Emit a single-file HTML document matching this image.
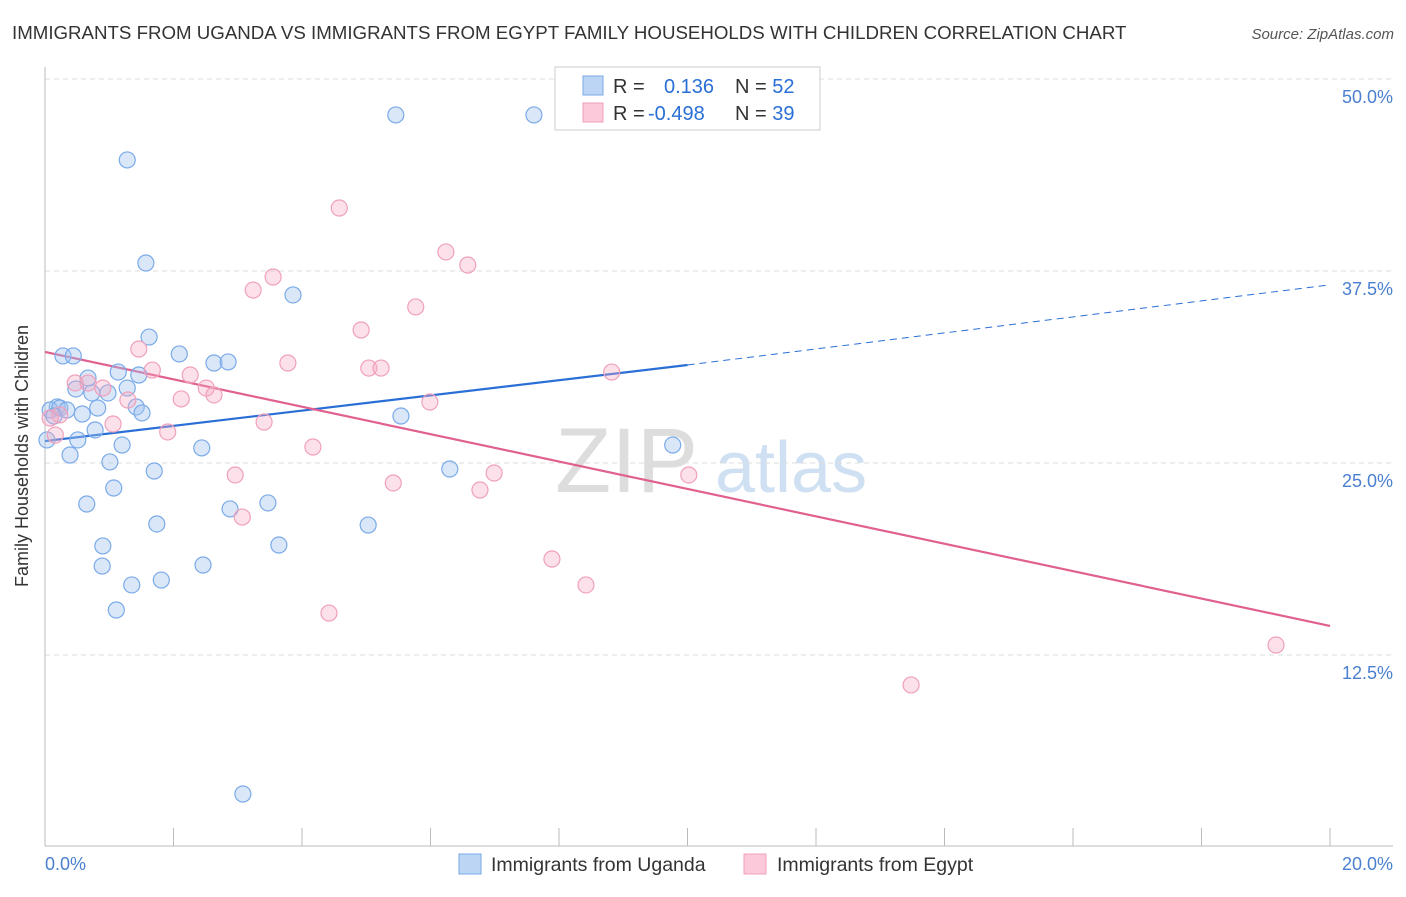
<!DOCTYPE html>
<html><head><meta charset="utf-8"><style>
body{margin:0;background:#fff;font-family:"Liberation Sans",sans-serif;}
svg text{font-family:"Liberation Sans",sans-serif;}
</style></head><body>
<svg id="chart" width="1406" height="892" viewBox="0 0 1406 892">
<text x="12" y="39" font-size="18.7" fill="#333">IMMIGRANTS FROM UGANDA VS IMMIGRANTS FROM EGYPT FAMILY HOUSEHOLDS WITH CHILDREN CORRELATION CHART</text>
<text x="1394" y="39" font-size="15" fill="#555" font-style="italic" text-anchor="end">Source: ZipAtlas.com</text>
<g><text x="555" y="492" font-size="92" fill="#ddd" font-family="Liberation Serif">ZIP</text><text x="715" y="492" font-size="72" fill="#cfe0f3">atlas</text></g>
<g id="grid"></g><g id="axes"></g><g id="lines"></g><g id="pts"></g>
<text x="28" y="456" font-size="18" fill="#333" text-anchor="middle" transform="rotate(-90 28 456)">Family Households with Children</text>
<text x="45" y="870" font-size="18" fill="#4a7fd0">0.0%</text>
<text x="1393" y="870" font-size="18" fill="#4a7fd0" text-anchor="end">20.0%</text>
<g>
<rect x="555" y="67" width="265" height="63" fill="#fff" stroke="#ccc"/>
<rect x="583" y="76" width="20" height="19" fill="#bcd5f5" stroke="#7aaae8"/>
<rect x="583" y="103" width="20" height="19" fill="#fbc9d9" stroke="#f0a0bb"/>
<text x="613" y="93" font-size="20" fill="#333">R = <tspan x="664" fill="#2a6fd6">0.136</tspan><tspan x="735" fill="#333">N = </tspan><tspan fill="#2a6fd6">52</tspan></text>
<text x="613" y="120" font-size="20" fill="#333">R = <tspan x="648" fill="#2a6fd6">-0.498</tspan><tspan x="735" fill="#333">N = </tspan><tspan fill="#2a6fd6">39</tspan></text>
</g>
<g>
<rect x="459" y="854" width="22" height="20" fill="#bcd5f5" stroke="#7aaae8"/>
<text x="491" y="871" font-size="19.5" fill="#333">Immigrants from Uganda</text>
<rect x="744" y="854" width="22" height="20" fill="#fbc9d9" stroke="#f0a0bb"/>
<text x="777" y="871" font-size="19.5" fill="#333">Immigrants from Egypt</text>
</g>
</svg>
<script>
const yTicks=[12.5,25,37.5,50];
const yTickLabels=["12.5%","25.0%","37.5%","50.0%"];
const xTicks=[0,2,4,6,8,10,12,14,16,18,20];
const ugandaX=[5.46,7.61,1.28,1.57,3.86,1.62,0.28,0.44,2.09,2.63,2.85,1.14,1.46,0.67,0.48,1.28,0.73,0.98,0.19,0.08,0.23,0.34,0.82,1.42,1.51,0.58,0.14,0.78,0.51,0.03,1.20,0.39,1.01,1.70,2.44,6.30,5.54,9.77,1.07,0.65,3.47,2.88,1.74,5.03,0.90,3.64,0.89,2.46,1.35,1.81,1.11,3.08];
const ugandaY=[47.66,47.66,44.73,38.02,35.94,33.20,31.97,31.97,32.10,31.51,31.58,30.92,30.73,30.53,29.82,29.88,29.56,29.56,28.65,28.45,28.58,28.45,28.58,28.65,28.26,28.19,28.06,27.15,26.50,26.50,26.17,25.52,25.07,24.48,25.98,24.61,28.06,26.17,23.37,22.33,22.40,22.01,21.03,20.96,19.60,19.66,18.29,18.36,17.06,17.38,15.43,3.45];
const egyptX=[4.58,6.24,6.58,3.55,3.24,5.77,4.92,1.46,3.78,5.04,5.23,1.67,2.26,8.82,0.47,0.67,0.90,2.51,2.63,1.29,2.12,5.99,0.23,0.08,3.41,1.06,1.91,0.16,4.17,6.99,2.96,5.42,6.77,10.02,3.07,7.89,8.42,4.42,19.16,13.48];
const egyptY=[41.60,38.74,37.89,37.11,36.26,35.16,33.66,32.42,31.51,31.18,31.18,31.05,30.73,30.92,30.21,30.21,29.88,29.88,29.43,29.10,29.17,28.97,28.13,27.93,27.67,27.54,27.02,26.82,26.04,24.35,24.22,23.70,23.24,24.22,21.48,18.75,17.06,15.23,13.15,10.55];
const ugandaTrend=[26.43,31.38,36.6]; // at x=0,10,20
const egyptTrend=[32.23,14.39]; // at x=0,20
const NS="http://www.w3.org/2000/svg";
const X=v=>45+v*64.25, Y=v=>847-v*15.36;
function mk(parent,tag,attrs){const e=document.createElementNS(NS,tag);for(const k in attrs)e.setAttribute(k,attrs[k]);document.getElementById(parent).appendChild(e);return e;}
yTicks.forEach((t,i)=>{
 const l=mk('grid','line',{x1:45,x2:1393,y1:Y(t),y2:Y(t),stroke:'#ddd','stroke-dasharray':'5,4'});
 
 
 const tx=mk('grid','text',{x:1393,y:Y(t)+24,'font-size':18,fill:'#4a7fd0','text-anchor':'end'});
 tx.textContent=yTickLabels[i];
 
 
});
let a=mk('axes','line',{x1:45,x2:45,y1:67,y2:846,stroke:'#bbb'});


a=mk('axes','line',{x1:45,x2:1393,y1:846,y2:846,stroke:'#bbb'});


xTicks.forEach(t=>{
 const l=mk('axes','line',{x1:X(t),x2:X(t),y1:828,y2:846,stroke:'#bbb'});
 
 
});
let ln=mk('lines','line',{x1:X(0),y1:Y(ugandaTrend[0]),x2:X(10),y2:Y(ugandaTrend[1]),stroke:'#2a6fd6','stroke-width':2.2});


ln=mk('lines','line',{x1:X(10),y1:Y(ugandaTrend[1]),x2:X(20),y2:Y(ugandaTrend[2]),stroke:'#2a6fd6','stroke-width':1,'stroke-dasharray':'7,5'});


ln=mk('lines','line',{x1:X(0),y1:Y(egyptTrend[0]),x2:X(20),y2:Y(egyptTrend[1]),stroke:'#e0608f','stroke-width':2.2});


ugandaX.forEach((x,i)=>{
 const c=mk('pts','circle',{cx:X(x),cy:Y(ugandaY[i]),r:8,fill:'rgba(160,196,240,0.4)',stroke:'#7aaae8','stroke-width':1.2});
 
 
});
egyptX.forEach((x,i)=>{
 const c=mk('pts','circle',{cx:X(x),cy:Y(egyptY[i]),r:8,fill:'rgba(245,170,195,0.35)',stroke:'#f0a0bb','stroke-width':1.2});
 
 
});
</script>
</body></html>
